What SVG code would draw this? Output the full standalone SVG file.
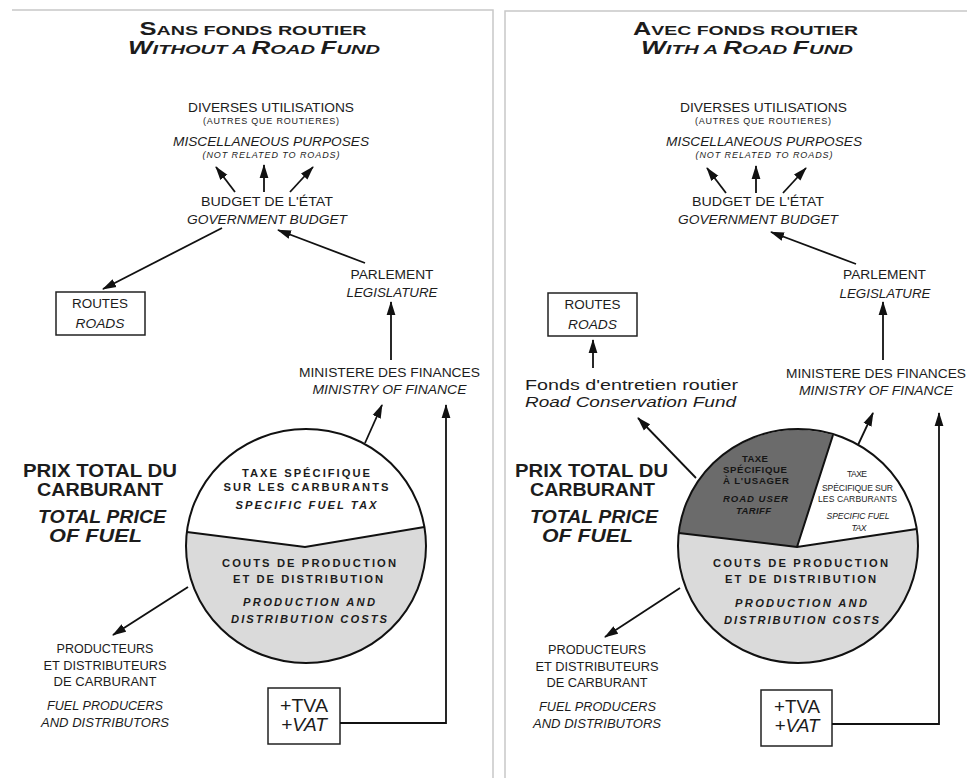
<svg xmlns="http://www.w3.org/2000/svg" width="967" height="778" viewBox="0 0 967 778">
<defs>
<marker id="ah" markerUnits="userSpaceOnUse" markerWidth="14" markerHeight="10" refX="13" refY="5" orient="auto"><path d="M0,0.6 L14,5 L0,9.4 Z" fill="#111"/></marker>
<style>
text{font-family:"Liberation Sans",Arial,sans-serif;fill:#1c1c1c;text-anchor:middle}
.n{font-size:13.2px}
.s{font-size:9px}
.p{font-size:12.5px}
.i{font-style:italic}
.b{font-weight:bold}
.h{font-weight:bold;font-size:13.5px}
.big{font-weight:bold;font-size:17.5px}
.pie{font-weight:bold;font-size:11.2px}
.pd{font-weight:bold;font-size:9.6px;fill:#161616}
.pw{font-size:8.6px}
.vat{font-size:18.5px}
.f{font-size:15.5px}
.ln{fill:none;stroke:#111;stroke-width:1.8;marker-end:url(#ah)}
.box{fill:#fff;stroke:#222;stroke-width:1.5}
.pieo{fill:none;stroke:#111;stroke-width:2}
</style>
</defs>
<rect width="967" height="778" fill="#fff"/>
<g id="frames" stroke="#c8c8c8" stroke-width="1.5" fill="none">
<path d="M12,10 H493 V778"/>
<path d="M505,778 V11 H967"/>
</g>

<g id="left-panel">
<g id="title-left">
<text x="253" y="35" class="h" textLength="227" lengthAdjust="spacingAndGlyphs"><tspan font-size="17.5">S</tspan>ANS FONDS ROUTIER</text>
<text x="254" y="54" class="h i" textLength="252" lengthAdjust="spacingAndGlyphs"><tspan font-size="17.5">W</tspan>ITHOUT A <tspan font-size="17.5">R</tspan>OAD <tspan font-size="17.5">F</tspan>UND</text>
</g>
<g id="misc-left">
<text x="271" y="112" class="n" textLength="166" lengthAdjust="spacingAndGlyphs">DIVERSES UTILISATIONS</text>
<text x="271" y="124" class="s" textLength="136" lengthAdjust="spacing">(AUTRES QUE ROUTIERES)</text>
<text x="271" y="146" class="n i" textLength="196" lengthAdjust="spacingAndGlyphs">MISCELLANEOUS PURPOSES</text>
<text x="271" y="158" class="s i" textLength="137" lengthAdjust="spacing">(NOT RELATED TO ROADS)</text>
</g>
<g id="budget-left">
<text x="267" y="206" class="n" textLength="132" lengthAdjust="spacingAndGlyphs">BUDGET DE L'ÉTAT</text>
<text x="267" y="224" class="n i" textLength="160" lengthAdjust="spacingAndGlyphs">GOVERNMENT BUDGET</text>
</g>
<g id="routes-left">
<rect x="56" y="292" width="89" height="43" class="box"/>
<text x="100" y="308" class="n" textLength="56" lengthAdjust="spacingAndGlyphs">ROUTES</text>
<text x="100" y="328" class="n i" textLength="49" lengthAdjust="spacingAndGlyphs">ROADS</text>
</g>
<g id="parlement-left">
<text x="392" y="279" class="n" textLength="83" lengthAdjust="spacingAndGlyphs">PARLEMENT</text>
<text x="392" y="297" class="n i" textLength="91" lengthAdjust="spacingAndGlyphs">LEGISLATURE</text>
</g>
<g id="ministry-left">
<text x="389.5" y="377" class="n" textLength="181" lengthAdjust="spacingAndGlyphs">MINISTERE DES FINANCES</text>
<text x="389.5" y="394" class="n i" textLength="154" lengthAdjust="spacingAndGlyphs">MINISTRY OF FINANCE</text>
</g>
<g id="prix-left">
<text x="100" y="477" class="big" textLength="154" lengthAdjust="spacingAndGlyphs">PRIX TOTAL DU</text>
<text x="100" y="496" class="big" textLength="126" lengthAdjust="spacingAndGlyphs">CARBURANT</text>
<text x="102" y="523" class="big i" textLength="128" lengthAdjust="spacingAndGlyphs">TOTAL PRICE</text>
<text x="95.5" y="542" class="big i" textLength="93" lengthAdjust="spacingAndGlyphs">OF FUEL</text>
</g>
<g id="pie-left">
<ellipse cx="306" cy="546" rx="120" ry="117" fill="#fff"/>
<path d="M305,547 L424.4,527 A120,117 0 1,1 186.9,532 Z" fill="#dadada"/>
<path d="M186.9,532 L305,547 L424.4,527" fill="none" stroke="#111" stroke-width="2"/>
<ellipse cx="306" cy="546" rx="120" ry="117" class="pieo"/>
<text x="306" y="477" class="pie" textLength="128" lengthAdjust="spacing">TAXE SPÉCIFIQUE</text>
<text x="306" y="491" class="pie" textLength="165" lengthAdjust="spacing">SUR LES CARBURANTS</text>
<text x="306" y="509" class="pie i" textLength="141" lengthAdjust="spacing">SPECIFIC FUEL TAX</text>
<text x="309" y="567" class="pie" textLength="174" lengthAdjust="spacing">COUTS DE PRODUCTION</text>
<text x="308" y="583" class="pie" textLength="150" lengthAdjust="spacing">ET DE DISTRIBUTION</text>
<text x="309" y="606" class="pie i" textLength="132" lengthAdjust="spacing">PRODUCTION AND</text>
<text x="309" y="623" class="pie i" textLength="156" lengthAdjust="spacing">DISTRIBUTION COSTS</text>
</g>
<g id="producers-left">
<text x="105" y="653" class="p" textLength="97" lengthAdjust="spacingAndGlyphs">PRODUCTEURS</text>
<text x="105" y="670" class="p" textLength="123" lengthAdjust="spacingAndGlyphs">ET DISTRIBUTEURS</text>
<text x="105" y="686" class="p" textLength="103" lengthAdjust="spacingAndGlyphs">DE CARBURANT</text>
<text x="105" y="710" class="p i" textLength="116" lengthAdjust="spacingAndGlyphs">FUEL PRODUCERS</text>
<text x="105" y="727" class="p i" textLength="128" lengthAdjust="spacingAndGlyphs">AND DISTRIBUTORS</text>
</g>
<g id="vat-left">
<rect x="268" y="688" width="72" height="56" class="box"/>
<text x="304" y="712" class="vat" textLength="48" lengthAdjust="spacingAndGlyphs">+TVA</text>
<text x="304" y="731" class="vat i" textLength="46" lengthAdjust="spacingAndGlyphs">+VAT</text>
</g>
</g>

<g id="right-panel">
<g id="title-right">
<text x="745.5" y="35" class="h" textLength="225" lengthAdjust="spacingAndGlyphs"><tspan font-size="17.5">A</tspan>VEC FONDS ROUTIER</text>
<text x="747" y="54" class="h i" textLength="212" lengthAdjust="spacingAndGlyphs"><tspan font-size="17.5">W</tspan>ITH A <tspan font-size="17.5">R</tspan>OAD <tspan font-size="17.5">F</tspan>UND</text>
</g>
<g id="misc-right">
<text x="763.5" y="112" class="n" textLength="167" lengthAdjust="spacingAndGlyphs">DIVERSES UTILISATIONS</text>
<text x="763" y="124" class="s" textLength="136" lengthAdjust="spacing">(AUTRES QUE ROUTIERES)</text>
<text x="764" y="146" class="n i" textLength="196" lengthAdjust="spacingAndGlyphs">MISCELLANEOUS PURPOSES</text>
<text x="764" y="158" class="s i" textLength="137" lengthAdjust="spacing">(NOT RELATED TO ROADS)</text>
</g>
<g id="budget-right">
<text x="758" y="206" class="n" textLength="132" lengthAdjust="spacingAndGlyphs">BUDGET DE L'ÉTAT</text>
<text x="758" y="224" class="n i" textLength="160" lengthAdjust="spacingAndGlyphs">GOVERNMENT BUDGET</text>
</g>
<g id="routes-right">
<rect x="548" y="293" width="89" height="43" class="box"/>
<text x="592.5" y="309" class="n" textLength="56" lengthAdjust="spacingAndGlyphs">ROUTES</text>
<text x="592.5" y="329" class="n i" textLength="49" lengthAdjust="spacingAndGlyphs">ROADS</text>
</g>
<g id="parlement-right">
<text x="884.5" y="279" class="n" textLength="83" lengthAdjust="spacingAndGlyphs">PARLEMENT</text>
<text x="885" y="298" class="n i" textLength="91" lengthAdjust="spacingAndGlyphs">LEGISLATURE</text>
</g>
<g id="ministry-right">
<text x="876" y="378" class="n" textLength="180" lengthAdjust="spacingAndGlyphs">MINISTERE DES FINANCES</text>
<text x="876" y="395" class="n i" textLength="154" lengthAdjust="spacingAndGlyphs">MINISTRY OF FINANCE</text>
</g>
<g id="fund-right">
<text x="631.5" y="390" class="f" textLength="213" lengthAdjust="spacingAndGlyphs">Fonds d'entretien routier</text>
<text x="630.5" y="407" class="f i" textLength="211" lengthAdjust="spacingAndGlyphs">Road Conservation Fund</text>
</g>
<g id="prix-right">
<text x="591.5" y="477" class="big" textLength="153" lengthAdjust="spacingAndGlyphs">PRIX TOTAL DU</text>
<text x="592.5" y="496" class="big" textLength="125" lengthAdjust="spacingAndGlyphs">CARBURANT</text>
<text x="594" y="523" class="big i" textLength="128" lengthAdjust="spacingAndGlyphs">TOTAL PRICE</text>
<text x="587.5" y="542" class="big i" textLength="91" lengthAdjust="spacingAndGlyphs">OF FUEL</text>
</g>
<g id="pie-right">
<path d="M797,547 L678.7,533 A120,117 0 0,1 833,435 Z" fill="#6b6b6b"/>
<path d="M797,547 L833,435 A120,117 0 0,1 916.7,529 Z" fill="#fff"/>
<path d="M797,547 L916.7,529 A120,117 0 1,1 678.7,533 Z" fill="#dadada"/>
<path d="M678.7,533 L797,547 L916.7,529 M797,547 L833,435" fill="none" stroke="#111" stroke-width="2"/>
<ellipse cx="798" cy="546" rx="120" ry="117" class="pieo"/>
<text x="755" y="462" class="pd" textLength="26" lengthAdjust="spacing">TAXE</text>
<text x="755" y="473" class="pd" textLength="64" lengthAdjust="spacing">SPÉCIFIQUE</text>
<text x="756" y="484" class="pd" textLength="66" lengthAdjust="spacing">À L'USAGER</text>
<text x="755.5" y="502" class="pd i" textLength="65" lengthAdjust="spacing">ROAD USER</text>
<text x="753.5" y="514" class="pd i" textLength="35" lengthAdjust="spacing">TARIFF</text>
<text x="857" y="477" class="pw" textLength="20" lengthAdjust="spacing">TAXE</text>
<text x="857.5" y="491" class="pw" textLength="71" lengthAdjust="spacing">SPÉCIFIQUE SUR</text>
<text x="857.5" y="502" class="pw" textLength="79" lengthAdjust="spacing">LES CARBURANTS</text>
<text x="858" y="519" class="pw i" textLength="63" lengthAdjust="spacing">SPECIFIC FUEL</text>
<text x="859" y="531" class="pw i" textLength="15" lengthAdjust="spacing">TAX</text>
<text x="800.5" y="567" class="pie" textLength="175" lengthAdjust="spacing">COUTS DE PRODUCTION</text>
<text x="800.5" y="583" class="pie" textLength="151" lengthAdjust="spacing">ET DE DISTRIBUTION</text>
<text x="801" y="607" class="pie i" textLength="132" lengthAdjust="spacing">PRODUCTION AND</text>
<text x="801.5" y="624" class="pie i" textLength="155" lengthAdjust="spacing">DISTRIBUTION COSTS</text>
</g>
<g id="producers-right">
<text x="597" y="654" class="p" textLength="98" lengthAdjust="spacingAndGlyphs">PRODUCTEURS</text>
<text x="597" y="671" class="p" textLength="123" lengthAdjust="spacingAndGlyphs">ET DISTRIBUTEURS</text>
<text x="597" y="687" class="p" textLength="101" lengthAdjust="spacingAndGlyphs">DE CARBURANT</text>
<text x="597.5" y="711" class="p i" textLength="117" lengthAdjust="spacingAndGlyphs">FUEL PRODUCERS</text>
<text x="597" y="728" class="p i" textLength="128" lengthAdjust="spacingAndGlyphs">AND DISTRIBUTORS</text>
</g>
<g id="vat-right">
<rect x="761" y="690" width="71" height="56" class="box"/>
<text x="797" y="713" class="vat" textLength="46" lengthAdjust="spacingAndGlyphs">+TVA</text>
<text x="797" y="732" class="vat i" textLength="45" lengthAdjust="spacingAndGlyphs">+VAT</text>
</g>
</g>

<g id="connectors">
<path class="ln" d="M235,192 L216,167"/>
<path class="ln" d="M264,192 L264,165"/>
<path class="ln" d="M290,192 L313,167"/>
<path class="ln" d="M222,228 L103,289"/>
<path class="ln" d="M365,263 L278,230"/>
<path class="ln" d="M391,360 L391,302"/>
<path class="ln" d="M365,443 L382,405"/>
<path class="ln" d="M340,723 L446,723 L446,405"/>
<path class="ln" d="M188,587 L113,635"/>
<path class="ln" d="M726,193 L707,168"/>
<path class="ln" d="M756,193 L756,166"/>
<path class="ln" d="M783,193 L806,168"/>
<path class="ln" d="M856,264 L771,232"/>
<path class="ln" d="M883,360 L883,302"/>
<path class="ln" d="M593,368 L593,340"/>
<path class="ln" d="M696,478 L638,418"/>
<path class="ln" d="M858,445 L873,413"/>
<path class="ln" d="M832,724 L939,724 L939,413"/>
<path class="ln" d="M680,588 L605,637"/>
</g>
</svg>
